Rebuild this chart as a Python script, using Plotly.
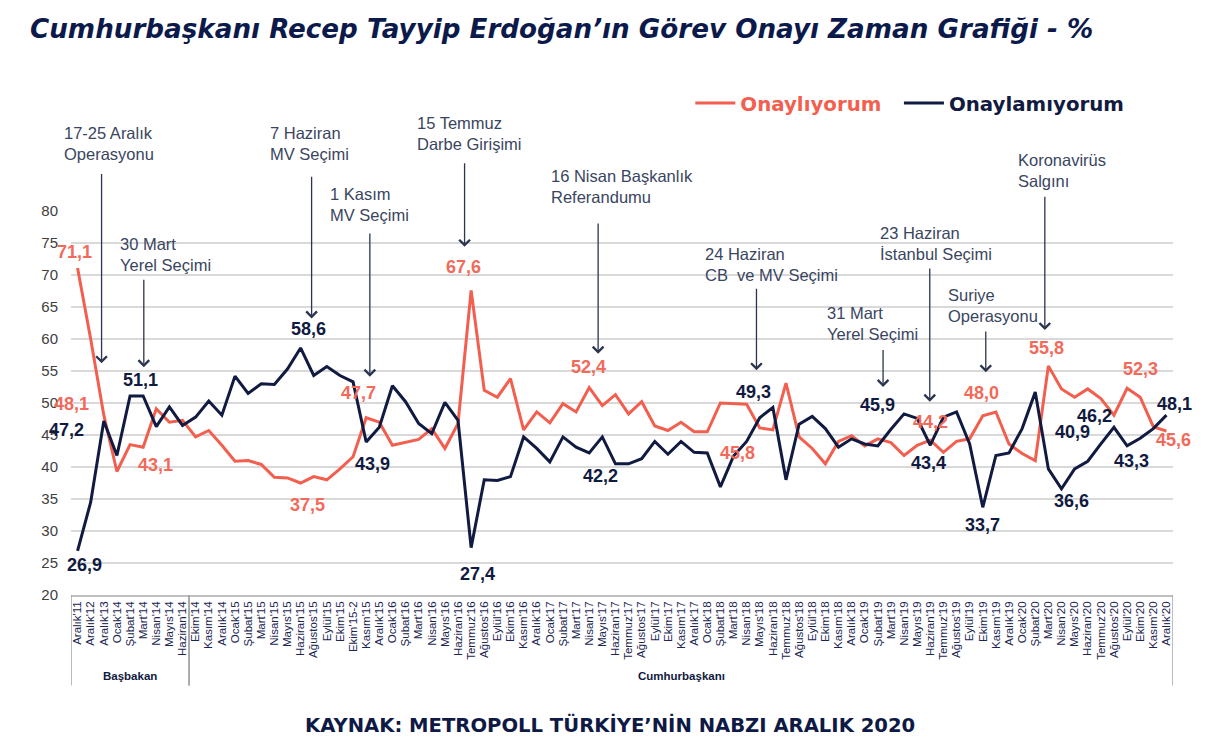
import plotly.graph_objects as go

categories = [
    "Aralık'11", "Aralık'12", "Aralık'13", "Ocak'14", "Şubat'14", "Mart'14", "Nisan'14", "Mayıs'14", "Haziran'14",
    "Ekim'14", "Kasım'14", "Aralık'14",
    "Ocak'15", "Şubat'15", "Mart'15", "Nisan'15", "Mayıs'15", "Haziran'15", "Ağustos'15", "Eylül'15", "Ekim'15", "Ekim'15-2", "Kasım'15", "Aralık'15",
    "Ocak'16", "Şubat'16", "Mart'16", "Nisan'16", "Mayıs'16", "Haziran'16", "Temmuz'16", "Ağustos'16", "Eylül'16", "Ekim'16", "Kasım'16", "Aralık'16",
    "Ocak'17", "Şubat'17", "Mart'17", "Nisan'17", "Mayıs'17", "Haziran'17", "Temmuz'17", "Ağustos'17", "Eylül'17", "Ekim'17", "Kasım'17", "Aralık'17",
    "Ocak'18", "Şubat'18", "Mart'18", "Nisan'18", "Mayıs'18", "Haziran'18", "Temmuz'18", "Ağustos'18", "Eylül'18", "Ekim'18", "Kasım'18", "Aralık'18",
    "Ocak'19", "Şubat'19", "Mart'19", "Nisan'19", "Mayıs'19", "Haziran'19", "Temmuz'19", "Ağustos'19", "Eylül'19", "Ekim'19", "Kasım'19", "Aralık'19",
    "Ocak'20", "Şubat'20", "Mart'20", "Nisan'20", "Mayıs'20", "Haziran'20", "Temmuz'20", "Ağustos'20", "Eylül'20", "Ekim'20", "Kasım'20", "Aralık'20",
]

onayliyorum = [
    71.1, 60.0, 48.1, 39.3, 43.5, 43.1, 49.1, 47.0, 47.3,
    44.7, 45.7, 43.4,
    40.9, 41.0, 40.4, 38.4, 38.3, 37.5, 38.5, 38.0, 39.7, 41.6, 47.7, 47.0,
    43.4, 43.9, 44.3, 46.0, 42.9, 46.8, 67.6, 52.0, 50.9, 53.8, 45.8, 48.6,
    46.9, 49.9, 48.6, 52.4, 49.6, 51.3, 48.3, 50.2, 46.4, 45.7, 47.0, 45.5,
    45.5, 50.0, 49.9, 49.8, 46.1, 45.8, 53.1, 44.7, 42.9, 40.5, 44.0, 44.9,
    43.3, 44.4, 43.8, 41.8, 43.4, 44.2, 42.3, 44.0, 44.4, 48.0, 48.6, 43.6,
    42.1, 41.0, 55.8, 52.2, 50.9, 52.2, 50.7, 48.1, 52.3, 50.9, 46.3, 45.6,
]

onaylamiyorum = [
    26.9, 34.5, 47.2, 41.8, 51.1, 51.1, 46.3, 49.4, 46.5,
    47.8, 50.3, 48.1,
    54.2, 51.5, 53.0, 52.9, 55.3, 58.6, 54.3, 55.7, 54.3, 53.3, 43.9, 46.2,
    52.7, 50.2, 46.8, 45.2, 50.1, 47.3, 27.4, 38.0, 37.9, 38.5, 44.7, 42.9,
    40.8, 44.7, 43.1, 42.2, 44.7, 40.5, 40.5, 41.3, 44.0, 42.0, 44.0, 42.3,
    42.2, 36.9, 41.7, 44.0, 47.7, 49.3, 38.0, 46.7, 47.9, 46.0, 43.1, 44.4,
    43.6, 43.3, 45.9, 48.3, 47.6, 43.4, 47.8, 48.6, 43.6, 33.7, 41.8, 42.2,
    46.0, 51.7, 39.7, 36.6, 39.7, 40.9, 43.6, 46.2, 43.3, 44.5, 46.0, 48.1,
]

y_ticks = [20, 25, 30, 35, 40, 45, 50, 55, 60, 65, 70, 75, 80]

groups = ["Başbakan", "Cumhurbaşkanı"]
group_bounds = [(0, 8), (9, 83)]

# event annotations: text, text-anchor (index, value), arrow x index, arrow tail value, arrow tip value
events = [
    ("17-25 Aralık<br>Operasyonu", -1.2, 90.6, 1.83, 86.0, 56.2),
    ("30 Mart<br>Yerel Seçimi", 3.08, 73.2, 5.05, 69.5, 55.6),
    ("7 Haziran<br>MV Seçimi", 14.5, 90.6, 17.84, 85.6, 63.2),
    ("1 Kasım<br>MV Seçimi", 19.08, 81.0, 22.28, 76.7, 54.1),
    ("15 Temmuz<br>Darbe Girişimi", 25.71, 92.1, 29.5, 87.7, 74.4),
    ("16 Nisan Başkanlık<br>Referandumu", 35.92, 83.9, 39.68, 78.3, 57.7),
    ("24 Haziran<br>CB  ve MV Seçimi", 47.68, 71.6, 51.75, 68.1, 55.1),
    ("31 Mart<br>Yerel Seçimi", 56.96, 62.5, 61.4, 58.5, 52.5),
    ("23 Haziran<br>İstanbul Seçimi", 61.02, 75.0, 64.96, 71.25, 50.2),
    ("Suriye<br>Operasyonu", 66.23, 65.3, 69.23, 61.4, 54.8),
    ("Koronavirüs<br>Salgını", 71.57, 86.4, 73.73, 82.45, 61.4),
]

red_label_idx = [0, 2, 5, 17, 22, 30, 39, 53, 65, 69, 74, 80, 83]
red_label_off = [(-3, 16), (-32, 11), (12, -18), (7, -22), (-8, 25), (-8, 23), (-1, 21),
                 (-35, -23), (0, 18), (-1, 23), (-2, 18), (13, 19), (7, -9)]
black_label_idx = [0, 2, 4, 17, 22, 30, 39, 53, 62, 65, 69, 75, 77, 79, 80, 83]
black_label_off = [(7, -14), (-37, -9), (10, 16), (8, 19), (6, -22), (6, -26), (11, -23), (-19, 15),
                   (-13, 24), (-2, -18), (0, -18), (10, -12), (-15, 29), (-19, 11), (4, -15), (8, 11)]

RED = "#F25F4F"
RED_TXT = "#F26A5A"
NAVY = "#111a40"
EVENT = "#3a4560"
FONT = "Liberation Sans, Arial, sans-serif"
WIDE = "DejaVu Sans, Verdana, sans-serif"
GAP = "\u00a0\u00a0"

N = len(categories)
Y0, Y1 = y_ticks[0], y_ticks[-1]


def xp(idx):
    # category index -> paper fraction of the x axis
    return (idx + 0.5) / N


def yp(val):
    # y value -> paper fraction of the y axis
    return (val - Y0) / (Y1 - Y0)


fig = go.Figure()
fig.add_trace(go.Scatter(
    x=categories, y=onayliyorum, mode="lines",
    line=dict(color=RED, width=3),
    name=f"<b><span style='color:{RED}'>Onaylıyorum</span></b>{GAP}",
))
fig.add_trace(go.Scatter(
    x=categories, y=onaylamiyorum, mode="lines",
    line=dict(color=NAVY, width=3),
    name=f"<b><span style='color:{NAVY}'>Onaylamıyorum</span></b>",
))

ann = []
for text, tx, ty, axi, tail, tip in events:
    ann.append(dict(x=xp(tx), y=yp(ty), xref="paper", yref="paper", text=text, showarrow=False,
                    xanchor="left", yanchor="middle", align="left",
                    font=dict(family=FONT, size=16.5, color=EVENT)))
    ann.append(dict(x=axi, y=tip, ax=axi, ay=tail, xref="x", yref="y", axref="x", ayref="y",
                    text="", showarrow=True, arrowhead=4, arrowsize=1.6, arrowwidth=1.3,
                    arrowcolor="#2b3550", standoff=0, startstandoff=0))


def fmt(v):
    return f"{v:.1f}".replace(".", ",")


for i, (dx, dy) in zip(red_label_idx, red_label_off):
    ann.append(dict(x=categories[i], y=onayliyorum[i], xref="x", yref="y", text=f"<b>{fmt(onayliyorum[i])}</b>",
                    showarrow=False, xshift=dx, yshift=dy,
                    font=dict(family=FONT, size=18, color=RED_TXT)))
for i, (dx, dy) in zip(black_label_idx, black_label_off):
    ann.append(dict(x=categories[i], y=onaylamiyorum[i], xref="x", yref="y", text=f"<b>{fmt(onaylamiyorum[i])}</b>",
                    showarrow=False, xshift=dx, yshift=dy,
                    font=dict(family=FONT, size=18, color=NAVY)))

# group labels and separators
shapes = []
for name, (a, b) in zip(groups, group_bounds):
    ann.append(dict(x=(a + b) / 2, y=-0.212, xref="x", yref="paper", text=f"<b>{name}</b>",
                    showarrow=False, yanchor="middle",
                    font=dict(family=FONT, size=11.5, color=NAVY)))
    for edge in (a - 0.5, b + 0.5):
        shapes.append(dict(type="line", xref="x", yref="paper", x0=edge, x1=edge, y0=0, y1=-0.236,
                           line=dict(color="#a6a6a6", width=1.5)))

ann.append(dict(x=0.489, y=-0.338, xref="paper", yref="paper",
                text="<b>KAYNAK: METROPOLL TÜRKİYE’NİN NABZI ARALIK 2020</b>", showarrow=False,
                yanchor="middle", font=dict(family=WIDE, size=19.6, color="#0e1a45")))

fig.update_layout(
    width=1218, height=747,
    margin=dict(l=71, r=45, t=211, b=152),
    plot_bgcolor="white", paper_bgcolor="white",
    title=dict(text="Cumhurbaşkanı Recep Tayyip Erdoğan’ın Görev Onayı Zaman Grafiği - %",
               x=30 / 1218, xanchor="left", xref="container",
               y=1 - 29 / 747, yanchor="middle", yref="container",
               font=dict(family=WIDE, size=26.2, color="#0c1a4b", weight="bold", style="italic")),
    legend=dict(orientation="h", x=0.562, xanchor="left", y=1.281, yanchor="middle",
                font=dict(family=WIDE, size=19.8), bgcolor="rgba(0,0,0,0)", itemwidth=40),
    annotations=ann,
    shapes=shapes,
    xaxis=dict(type="category", range=[-0.5, 83.5], tickmode="array", tickvals=categories,
               ticktext=categories, tickangle=-90,
               tickfont=dict(family="Liberation Sans Narrow, Liberation Sans, Arial", size=11.5, color="#1a2550"),
               showgrid=False, showline=True, linecolor="#bfbfbf", linewidth=1.5, ticks="",
               zeroline=False, fixedrange=True),
    yaxis=dict(range=[Y0, Y1], tickmode="array", tickvals=y_ticks,
               tickfont=dict(family=FONT, size=15, color="#404040"),
               showgrid=True, gridcolor="#d9d9d9", gridwidth=1.5, showline=False, zeroline=False,
               ticks="", ticklabelstandoff=12, fixedrange=True),
    hovermode=False,
)

fig.write_html("out.html")
